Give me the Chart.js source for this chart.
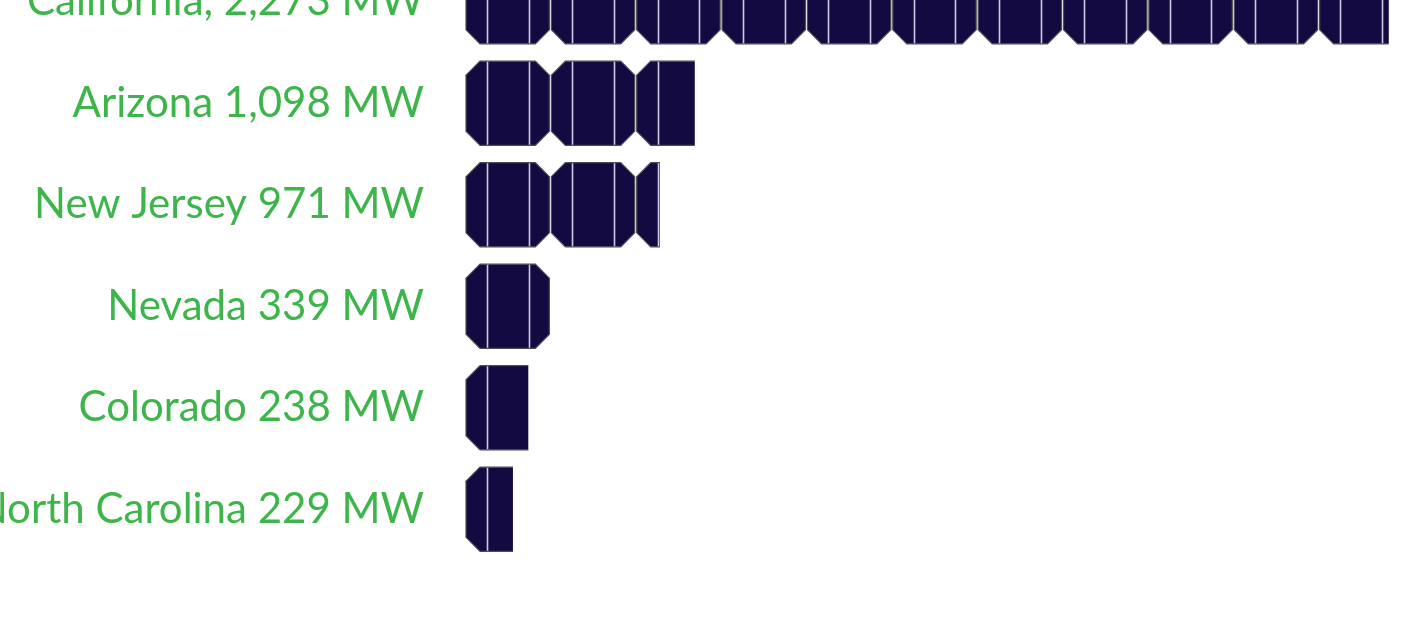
<!DOCTYPE html>
<html>
<head>
<meta charset="utf-8">
<script src="https://cdn.jsdelivr.net/npm/chart.js@4"></script>
<style>
  html, body { margin: 0; padding: 0; background: #fff; overflow: hidden; }
  #wrap { position: absolute; left: 0; top: -49px; width: 1405px; height: 609px; }
</style>
</head>
<body>
<div id="wrap"><canvas id="graficoPaineis"></canvas></div>
<script>
// dados
const labels = ['California, 2,273 MW', 'Arizona 1,098 MW', 'New Jersey 971 MW', 'Nevada 339 MW', 'Colorado 238 MW', 'North Carolina 229 MW'];
const capacityMW = [2273, 1098, 971, 339, 238, 229];
// largura da barra em "paineis" (como no desenho original)
const panels = [10.81, 2.68, 2.27, 1.0, 0.73, 0.55];

// desenha cada barra como uma fileira de celulas solares
const solarCells = {
    id: 'solarCells',
    afterDatasetsDraw(chart) {
        const ctx = chart.ctx;
        const xs = chart.scales.x;
        const w = xs.getPixelForValue(1) - xs.getPixelForValue(0);
        const gap = 2;
        const c = 14;
        chart.getDatasetMeta(0).data.forEach(function (bar) {
            const left = bar.base;
            const right = bar.x;
            const top = bar.y - bar.height / 2;
            const h = bar.height;
            ctx.save();
            ctx.beginPath();
            ctx.rect(left - 2, top - 2, right - left + 2, h + 4);
            ctx.clip();
            for (let x0 = left; x0 < right; x0 += w) {
                const cw = w - gap;
                ctx.beginPath();
                ctx.moveTo(x0 + c, top);
                ctx.lineTo(x0 + cw - c, top);
                ctx.lineTo(x0 + cw, top + c);
                ctx.lineTo(x0 + cw, top + h - c);
                ctx.lineTo(x0 + cw - c, top + h);
                ctx.lineTo(x0 + c, top + h);
                ctx.lineTo(x0, top + h - c);
                ctx.lineTo(x0, top + c);
                ctx.closePath();
                ctx.fillStyle = '#140a42';
                ctx.fill();
                ctx.strokeStyle = '#4d4d55';
                ctx.lineWidth = 1.2;
                ctx.stroke();
                // barramentos
                ctx.strokeStyle = '#cdc9e2';
                ctx.lineWidth = 1.6;
                [0.25, 0.75].forEach(function (f) {
                    const bx = Math.round(x0 + cw * f) + 0.5;
                    ctx.beginPath();
                    ctx.moveTo(bx, top + 0.5);
                    ctx.lineTo(bx, top + h - 0.5);
                    ctx.stroke();
                });
            }
            ctx.restore();
        });
    }
};

const ctxPaineis = document.getElementById('graficoPaineis').getContext('2d');
const graficoPaineis = new Chart(ctxPaineis, {
    type: 'bar',
    data: {
        labels: labels,
        datasets: [{
            label: 'MW',
            data: panels,
            capacity: capacityMW,
            backgroundColor: 'rgba(0,0,0,0)',
            borderWidth: 0,
            categoryPercentage: 1,
            barPercentage: 0.83
        }]
    },
    options: {
        indexAxis: 'y',
        responsive: true,
        maintainAspectRatio: false,
        animation: false,
        layout: { padding: 0 },
        plugins: {
            legend: { display: false },
            tooltip: { enabled: false }
        },
        scales: {
            x: {
                display: false,
                min: 0,
                max: 11
            },
            y: {
                grid: { display: false, drawTicks: false },
                border: { display: false },
                afterFit(scale) {
                    scale.width = 466;
                    scale.paddingTop = 0;
                    scale.paddingBottom = 0;
                },
                ticks: {
                    color: '#3db54a',
                    padding: 42,
                    font: { family: 'Lato', size: 42 }
                }
            }
        }
    },
    plugins: [solarCells]
});
</script>
</body>
</html>
